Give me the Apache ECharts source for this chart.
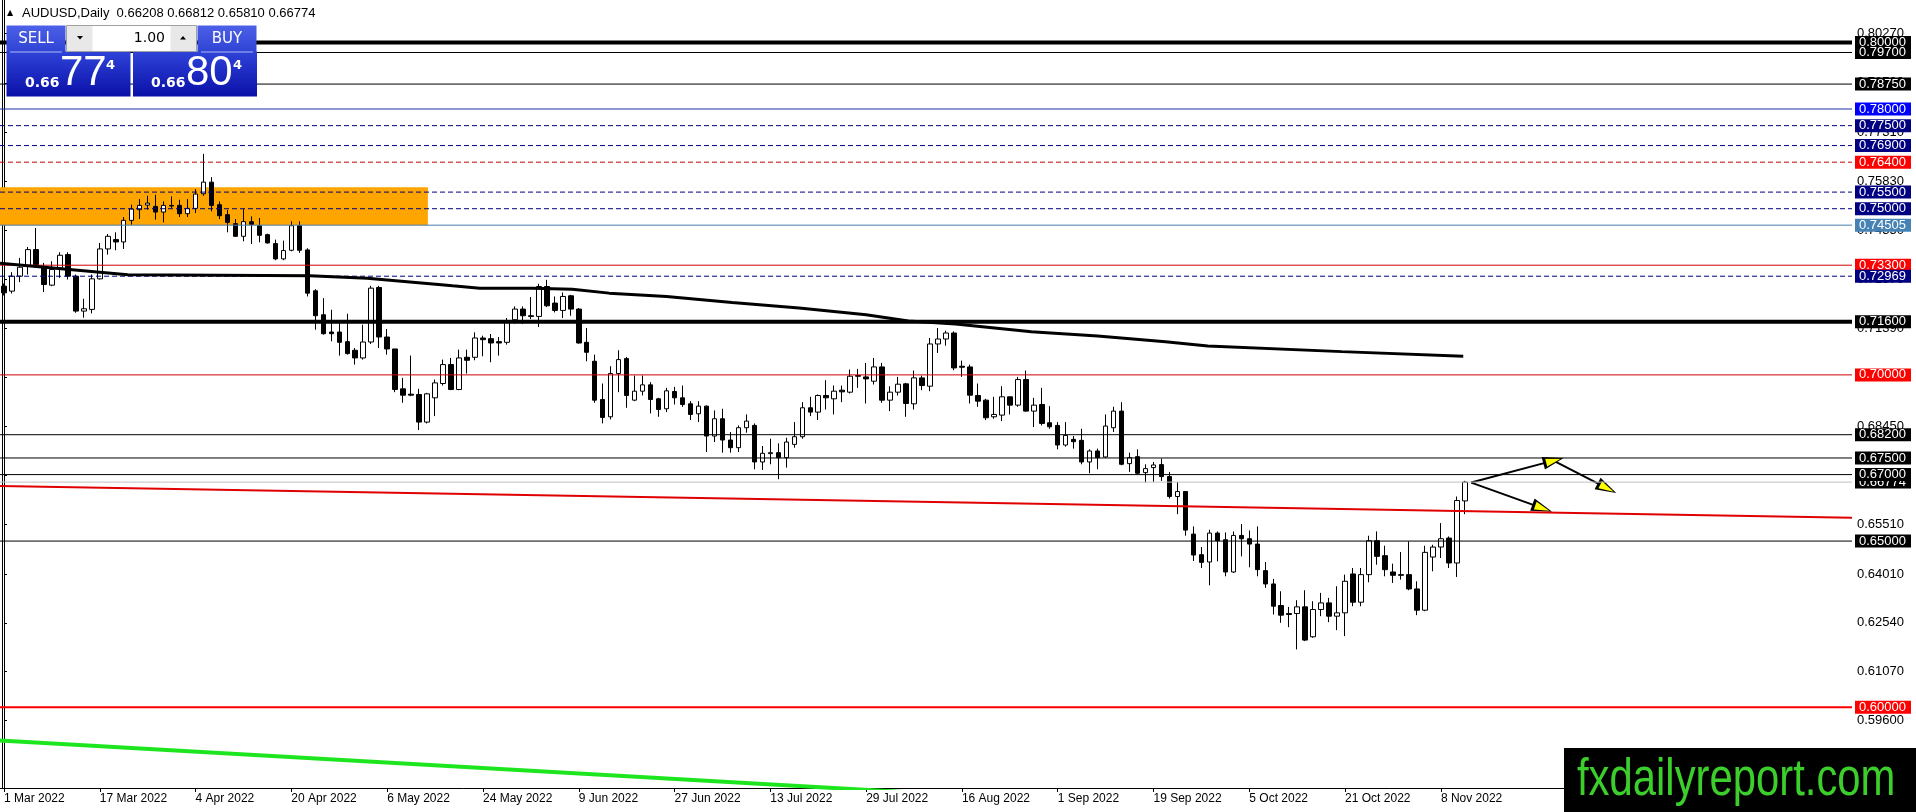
<!DOCTYPE html>
<html><head><meta charset="utf-8">
<script src="https://cdn.jsdelivr.net/npm/echarts@6/dist/echarts.min.js"></script>
<style>html,body{margin:0;padding:0;background:#fff;}#c{width:1916px;height:812px;}</style>
</head><body><div id="c"></div>
<script>
// ---------- DATA ----------
const opens = [.7267,.7252,.7297,.7327,.7377,.7322,.7270,.7322,.7362,.7297,
.7192,.7197,.7289,.7379,.7407,.7400,.7465,.7497,.7511,.7507,
.7490,.7510,.7510,.7485,.7501,.7545,.7580,.7512,.7482,.7455,
.7417,.7461,.7449,.7422,.7395,.7349,.7375,.7449,.7376,.7253,
.7181,.7129,.7129,.7100,.7074,.7051,.7099,.7263,.7114,.7078,
.6958,.6942,.6941,.6858,.6931,.6974,.7031,.6956,.7053,.7053,
.7111,.7109,.7100,.7098,.7166,.7198,.7178,.7176,.7266,.7216,
.7194,.7238,.7198,.7098,.7041,.6926,.6874,.7004,.7049,.6924,
.6951,.6970,.6928,.6898,.6950,.6931,.6913,.6883,.6906,.6816,
.6868,.6804,.6781,.6841,.6848,.6738,.6763,.6766,.6751,.6791,
.6814,.6901,.6888,.6938,.6928,.6954,.6948,.6998,.6994,.6981,
.7024,.6924,.6948,.6973,.6913,.6991,.6966,.7093,.7108,.7126,
.7026,.7024,.6938,.6924,.6874,.6879,.6934,.6909,.6986,.6891,
.6911,.6856,.6848,.6789,.6806,.6803,.6738,.6771,.6753,.6841,
.6891,.6733,.6754,.6706,.6721,.6730,.6694,.6634,.6649,.6521,
.6459,.6437,.6524,.6504,.6407,.6517,.6507,.6491,.6411,.6371,
.6306,.6282,.6282,.6302,.6212,.6294,.6314,.6274,.6284,.6401,
.6316,.6399,.6501,.6456,.6407,.6399,.6399,.6356,.6292,.6452,
.6482,.6509,.6434,.66208];
const closes = [.7247,.7297,.7324,.7377,.7332,.7272,.7317,.7360,.7297,.7192,
.7199,.7289,.7379,.7417,.7400,.7465,.7499,.7510,.7517,.7490,
.7510,.7508,.7485,.7501,.7544,.7580,.7510,.7479,.7459,.7417,
.7461,.7453,.7420,.7397,.7349,.7374,.7449,.7375,.7246,.7178,
.7124,.7124,.7098,.7064,.7051,.7099,.7261,.7114,.7078,.6956,
.6939,.6939,.6858,.6943,.6976,.7031,.6956,.7051,.7044,.7111,
.7106,.7096,.7096,.7158,.7198,.7178,.7176,.7266,.7208,.7194,
.7236,.7198,.7096,.7068,.6924,.6872,.7004,.7046,.6938,.6951,
.6970,.6926,.6896,.6952,.6931,.6911,.6881,.6906,.6816,.6868,
.6804,.6781,.6841,.6861,.6738,.6764,.6766,.6751,.6798,.6814,
.6901,.6888,.6938,.6931,.6951,.6949,.6996,.6996,.6988,.7024,
.6924,.6948,.6972,.6914,.6991,.6968,.7093,.7108,.7126,.7021,
.7023,.6939,.6921,.6871,.6881,.6934,.6909,.6986,.6891,.6909,
.6854,.6844,.6789,.6818,.6799,.6738,.6771,.6751,.6846,.6891,
.6731,.6751,.6704,.6718,.6729,.6694,.6634,.6649,.6533,.6458,
.6436,.6524,.6501,.6407,.6517,.6507,.6491,.6414,.6371,.6304,
.6277,.6279,.6302,.6202,.6294,.6314,.6274,.6284,.6379,.6316,
.6399,.6501,.6454,.6414,.6397,.6397,.6356,.6292,.6466,.6482,
.6507,.6434,.6622,.66774];
const lows = [.7239,.7245,.7279,.7302,.7322,.7249,.7267,.7292,.7287,.7187,
.7172,.7185,.7287,.7362,.7375,.7379,.7452,.7469,.7497,.7467,
.7459,.7502,.7475,.7475,.7487,.7539,.7492,.7469,.7429,.7415,
.7402,.7394,.7399,.7395,.7345,.7345,.7372,.7367,.7236,.7136,
.7121,.7101,.7058,.7061,.7031,.7046,.7093,.7081,.7061,.6948,
.6916,.6936,.6834,.6854,.6876,.6968,.6954,.6954,.7004,.7044,
.7056,.7038,.7058,.7091,.7154,.7153,.7168,.7144,.7204,.7188,
.7171,.7178,.7094,.7041,.6916,.6854,.6866,.6948,.6901,.6921,
.6938,.6884,.6874,.6888,.6911,.6904,.6864,.6858,.6768,.6798,
.6766,.6766,.6768,.6826,.6716,.6714,.6731,.6686,.6721,.6781,
.6808,.6876,.6864,.6896,.6881,.6918,.6944,.6961,.6914,.6971,
.6916,.6891,.6938,.6874,.6896,.6954,.6951,.7066,.7088,.7014,
.6994,.6914,.6904,.6864,.6868,.6861,.6881,.6904,.6889,.6843,
.6848,.6838,.6776,.6784,.6778,.6731,.6704,.6716,.6751,.6828,
.6728,.6708,.6701,.6676,.6678,.6681,.6628,.6581,.6516,.6440,
.6419,.6367,.6439,.6394,.6404,.6454,.6421,.6394,.6359,.6279,
.6254,.6241,.6174,.6199,.6209,.6274,.6256,.6232,.6214,.6304,
.6304,.6376,.6429,.6394,.6374,.6384,.6352,.6277,.6289,.6409,
.6449,.6419,.6392,.65810];
const highs = [.7275,.7309,.7352,.7385,.7442,.7337,.7342,.7369,.7369,.7302,
.7229,.7302,.7397,.7424,.7429,.7475,.7512,.7529,.7539,.7542,
.7522,.7537,.7527,.7529,.7559,.7665,.7595,.7522,.7497,.7469,
.7499,.7477,.7472,.7425,.7407,.7404,.7462,.7462,.7381,.7258,
.7231,.7196,.7156,.7184,.7081,.7151,.7268,.7268,.7138,.7078,
.6991,.7058,.6958,.6946,.6986,.7046,.7051,.7076,.7076,.7128,
.7118,.7123,.7114,.7171,.7206,.7206,.7234,.7274,.7286,.7236,
.7248,.7241,.7201,.7141,.7061,.6974,.7026,.7074,.7054,.6998,
.6998,.6978,.6931,.6961,.6964,.6968,.6921,.6921,.6908,.6893,
.6898,.6828,.6848,.6881,.6854,.6786,.6808,.6794,.6811,.6858,
.6918,.6934,.6941,.6984,.6968,.6968,.7016,.7018,.7036,.7051,
.7036,.6966,.6994,.6976,.7013,.6998,.7111,.7141,.7133,.7131,
.7043,.7031,.6974,.6928,.6934,.6966,.6934,.6994,.7013,.6931,
.6961,.6906,.6858,.6858,.6816,.6838,.6776,.6778,.6881,.6904,
.6918,.6766,.6776,.6731,.6738,.6748,.6708,.6678,.6649,.6544,
.6482,.6534,.6529,.6526,.6529,.6551,.6532,.6544,.6437,.6386,
.6349,.6302,.6322,.6352,.6319,.6344,.6329,.6364,.6399,.6419,
.6419,.6516,.6529,.6486,.6432,.6467,.6499,.6379,.6486,.6489,
.6554,.6514,.6634,.66812];
const xTickLabels = ['1 Mar 2022','17 Mar 2022','4 Apr 2022','20 Apr 2022','6 May 2022','24 May 2022','9 Jun 2022','27 Jun 2022','13 Jul 2022','29 Jul 2022','16 Aug 2022','1 Sep 2022','19 Sep 2022','5 Oct 2022','21 Oct 2022','8 Nov 2022'];
const barsPerTick = 12;
const futureSlots = 48;
const yTickValues = [0.59600,0.61070,0.62540,0.64010,0.65510,0.66980,0.68450,0.69920,0.71390,0.72870,0.74350,0.75830,0.77310,0.78790,0.80270];
const levelPrices = [0.80000,0.79700,0.78750,0.78000,0.77500,0.76900,0.76400,0.75500,0.75000,0.74505,0.73300,0.72969,0.71600,0.70000,0.68200,0.67500,0.66774,0.67000,0.65000,0.60000];
const levelKinds  = ['thick','black','black','blue','navy','navy','redDash','navy','navy','steel','red','navy','thick','red','black','black','bid','black','black','redThick'];
const maPoints = [[-0.5,0.7336],[15.5,0.7301],[38.3,0.7298],[45.5,0.7291],[56.2,0.7268],[59.6,0.7261],[66.2,0.7261],[71.2,0.7258],[75.8,0.7246],[83,0.7236],[91.2,0.7218],[99.6,0.7201],[108,0.7181],[113.3,0.7162],[119.2,0.7153],[128.7,0.7130],[137,0.7117],[145.5,0.7100],[150.8,0.7087],[167.6,0.7070],[182.8,0.7056]];
const redTrend = [[-0.5,0.6666],[231.5,0.6570]];
const greenTrend = [[-0.5,0.5900],[120,0.5735]];
const supplyZone = [[-0.5,0.75648],[53.1,0.74505]];
const arrowPaths = [[[183.8,0.6676],[194.1,0.6742]],[[194.1,0.6742],[200.8,0.6659]],[[183.8,0.6676],[192.7,0.6599]]];
const bidPrice = '0.66774', askPrice = '0.66804';

// ---------- STYLES ----------
const kindStyle = {
  thick:   {line:'#000000', w:4, t:'solid',  bg:'#000000'},
  black:   {line:'#000000', w:1, t:'solid',  bg:'#000000'},
  blue:    {line:'#1c2ca8', w:1, t:'solid',  bg:'#0000ff'},
  navy:    {line:'#000080', w:1, t:[5,3],    bg:'#000080'},
  redDash: {line:'#c00000', w:1, t:[5,3],    bg:'#ff0000'},
  steel:   {line:'#4a7fb2', w:1, t:'solid',  bg:'#4682b4'},
  red:     {line:'#d00000', w:1, t:'solid',  bg:'#ff0000'},
  redThick:{line:'#ff0000', w:2, t:'solid',  bg:'#ff0000'},
  bid:     {line:'#c0c0c0', w:1, t:'solid',  bg:'#000000'}
};
const FONT = 'Liberation Sans';
const nCats = opens.length + futureSlots;
const cats = Array.from({length:nCats}, (_, i) => String(i));
const showTick = (i) => i % barsPerTick === 0 && (i / barsPerTick) < xTickLabels.length;

const chart = echarts.init(document.getElementById('c'));
const G = echarts.graphic;
const grad = (a, b) => new G.LinearGradient(0, 0, 0, 1, [{offset:0,color:a},{offset:1,color:b}]);
const last = opens.length - 1;

const levelSeries = levelPrices.map((p, i) => {
  const s = kindStyle[levelKinds[i]];
  return {
    name:'level' + i, type:'line', xAxisIndex:1, yAxisIndex:0, z:6 + i * 0.01, silent:true,
    data:[[-0.5, p],[nCats - 0.5, p]], symbol:'none', showSymbol:false, clip:false,
    lineStyle:{color:s.line, width:s.w, type:s.t},
    endLabel:{show:true, distance:3, formatter:p.toFixed(5), color:'#ffffff', backgroundColor:s.bg,
      fontSize:13, fontFamily:FONT, padding:[1,5,0,4], lineHeight:12}
  };
});

const option = {
  animation:false,
  backgroundColor:'#ffffff',
  grid:{left:0, right:64, top:0, bottom:24, containLabel:false},
  xAxis:[{
    type:'category', data:cats, boundaryGap:true,
    axisLine:{show:true, lineStyle:{color:'#000', width:1}},
    axisTick:{show:true, alignWithLabel:true, interval:(i)=>showTick(i), length:4, lineStyle:{color:'#000'}},
    axisLabel:{interval:(i)=>showTick(i), formatter:(v, i)=> showTick(i) ? xTickLabels[i / barsPerTick] : '',
      align:'left', color:'#000', fontSize:12, fontFamily:FONT, margin:5},
    splitLine:{show:false}
  },{
    type:'value', min:-0.5, max:nCats - 0.5, show:false
  }],
  yAxis:[{
    type:'value', position:'right', min:0.5757, max:0.8128, scale:true,
    splitLine:{show:false},
    axisLine:{show:true, lineStyle:{color:'#000', width:1}},
    axisTick:{show:true, length:3, customValues:yTickValues, lineStyle:{color:'#000'}},
    axisLabel:{customValues:yTickValues, formatter:(v)=>v.toFixed(5), color:'#000', fontSize:13, fontFamily:FONT, margin:5}
  },{
    type:'value', position:'left', min:0.5757, max:0.8128, offset:-2,
    splitLine:{show:false}, axisTick:{show:false}, axisLabel:{show:false},
    axisLine:{show:true, lineStyle:{color:'#000', width:1}}
  }],
  series:[
    {
      name:'zone', type:'line', xAxisIndex:1, yAxisIndex:0, data:[], z:1, silent:true,
      markArea:{silent:true, z:1, itemStyle:{color:'#ffa500'},
        data:[[{coord:supplyZone[0]},{coord:supplyZone[1]}]]}
    },
    {
      name:'AUDUSD', type:'candlestick', xAxisIndex:0, yAxisIndex:0, z:5, silent:true, barWidth:5,
      data: opens.map((o, i) => [o, closes[i], lows[i], highs[i]]),
      itemStyle:{color:'#ffffff', color0:'#000000', borderColor:'#000000', borderColor0:'#000000', borderWidth:1}
    }
  ].concat(levelSeries).concat([
    {
      name:'MA', type:'line', xAxisIndex:1, yAxisIndex:0, data:maPoints, z:7, silent:true,
      symbol:'none', showSymbol:false, lineStyle:{color:'#000', width:3}
    },
    {
      name:'redTrend', type:'line', xAxisIndex:1, yAxisIndex:0, data:redTrend, z:7, silent:true,
      symbol:'none', showSymbol:false, lineStyle:{color:'#e00000', width:2}
    },
    {
      name:'greenTrend', type:'line', xAxisIndex:1, yAxisIndex:0, data:greenTrend, z:7, silent:true, clip:true,
      symbol:'none', showSymbol:false, lineStyle:{color:'#1ee61e', width:4}
    },
    {
      name:'arrowsBlack', type:'line', xAxisIndex:1, yAxisIndex:0, data:[], z:8, silent:true,
      markLine:{silent:true, symbol:['none','triangle'], symbolSize:[13,21], animation:false,
        lineStyle:{color:'#000', width:2, type:'solid'}, label:{show:false},
        data: arrowPaths.map(p => [{coord:p[0]},{coord:p[1]}])}
    },
    {
      name:'arrowsYellow', type:'line', xAxisIndex:1, yAxisIndex:0, data:[], z:9, silent:true,
      markLine:{silent:true, symbol:['none','triangle'], symbolSize:[8,15], animation:false,
        lineStyle:{color:'#ffff00', width:0, opacity:1, type:'solid'}, label:{show:false},
        data: arrowPaths.map(p => [{coord:p[0]},{coord:p[1]}])}
    }
  ]),
  graphic:[
    {type:'text', x:7, y:13, z:100, style:{text:'▲', fill:'#000', font:'8px "DejaVu Sans"', textVerticalAlign:'middle'}},
    {type:'text', x:22, y:13, z:100, style:{text:'AUDUSD,Daily  ' + opens[last].toFixed(5) + ' ' + highs[last].toFixed(5) + ' ' + lows[last].toFixed(5) + ' ' + closes[last].toFixed(5),
      fill:'#000', font:'13px "Liberation Sans"', textVerticalAlign:'middle'}},
    {type:'rect', z:100, shape:{x:6.5, y:25.5, width:59, height:27}, style:{fill:grad('#4d60e8','#2e43d4')}},
    {type:'rect', z:100, shape:{x:197.5, y:25.5, width:59, height:27}, style:{fill:grad('#4d60e8','#2e43d4')}},
    {type:'text', z:101, x:36, y:39, style:{text:'SELL', fill:'#fff', font:'15px "DejaVu Sans"', textAlign:'center', textVerticalAlign:'middle'}},
    {type:'text', z:101, x:227, y:39, style:{text:'BUY', fill:'#fff', font:'15px "DejaVu Sans"', textAlign:'center', textVerticalAlign:'middle'}},
    {type:'rect', z:100, shape:{x:6.5, y:51.5, width:124, height:45}, style:{fill:grad('#2f43d8','#0a10a8')}},
    {type:'rect', z:100, shape:{x:133, y:51.5, width:124, height:45}, style:{fill:grad('#2f43d8','#0a10a8')}},
    {type:'line', z:101, shape:{x1:10, y1:52, x2:62, y2:52}, style:{stroke:'#aeb8f4', lineWidth:1}},
    {type:'line', z:101, shape:{x1:201, y1:52, x2:253, y2:52}, style:{stroke:'#aeb8f4', lineWidth:1}},
    {type:'rect', z:100, shape:{x:66.5, y:25.5, width:130, height:26}, style:{fill:'#e8e8e8', stroke:'#a0a0a0', lineWidth:1}},
    {type:'rect', z:101, shape:{x:92.5, y:26, width:78, height:25}, style:{fill:'#ffffff'}},
    {type:'polygon', z:101, shape:{points:[[77,36],[83,36],[80,39.5]]}, style:{fill:'#000'}},
    {type:'polygon', z:101, shape:{points:[[180,39.5],[186,39.5],[183,36]]}, style:{fill:'#000'}},
    {type:'text', z:102, x:165, y:38, style:{text:'1.00', fill:'#000', font:'14px "DejaVu Sans"', textAlign:'right', textVerticalAlign:'middle'}},
    {type:'text', z:102, x:25, y:83, style:{text:bidPrice.slice(0,4), fill:'#fff', font:'bold 14px "DejaVu Sans"', textVerticalAlign:'middle'}},
    {type:'text', z:102, x:60, y:73, style:{text:bidPrice.slice(4,6), fill:'#fff', font:'42px "Liberation Sans"', textVerticalAlign:'middle'}},
    {type:'text', z:102, x:106, y:66, style:{text:bidPrice.slice(6), fill:'#fff', font:'bold 13px "DejaVu Sans"', textVerticalAlign:'middle'}},
    {type:'text', z:102, x:151, y:83, style:{text:askPrice.slice(0,4), fill:'#fff', font:'bold 14px "DejaVu Sans"', textVerticalAlign:'middle'}},
    {type:'text', z:102, x:186, y:73, style:{text:askPrice.slice(4,6), fill:'#fff', font:'42px "Liberation Sans"', textVerticalAlign:'middle'}},
    {type:'text', z:102, x:233, y:66, style:{text:askPrice.slice(6), fill:'#fff', font:'bold 13px "DejaVu Sans"', textVerticalAlign:'middle'}},
    {type:'rect', z:110, shape:{x:1564, y:748, width:352, height:64}, style:{fill:'#000'}},
    {type:'text', z:111, x:1577, y:781, scaleX:0.82, style:{text:'fxdailyreport.com', fill:'#3ccf2b', font:'51px "Liberation Sans"', textVerticalAlign:'middle'}}
  ]
};
chart.setOption(option);
</script>
</body></html>
